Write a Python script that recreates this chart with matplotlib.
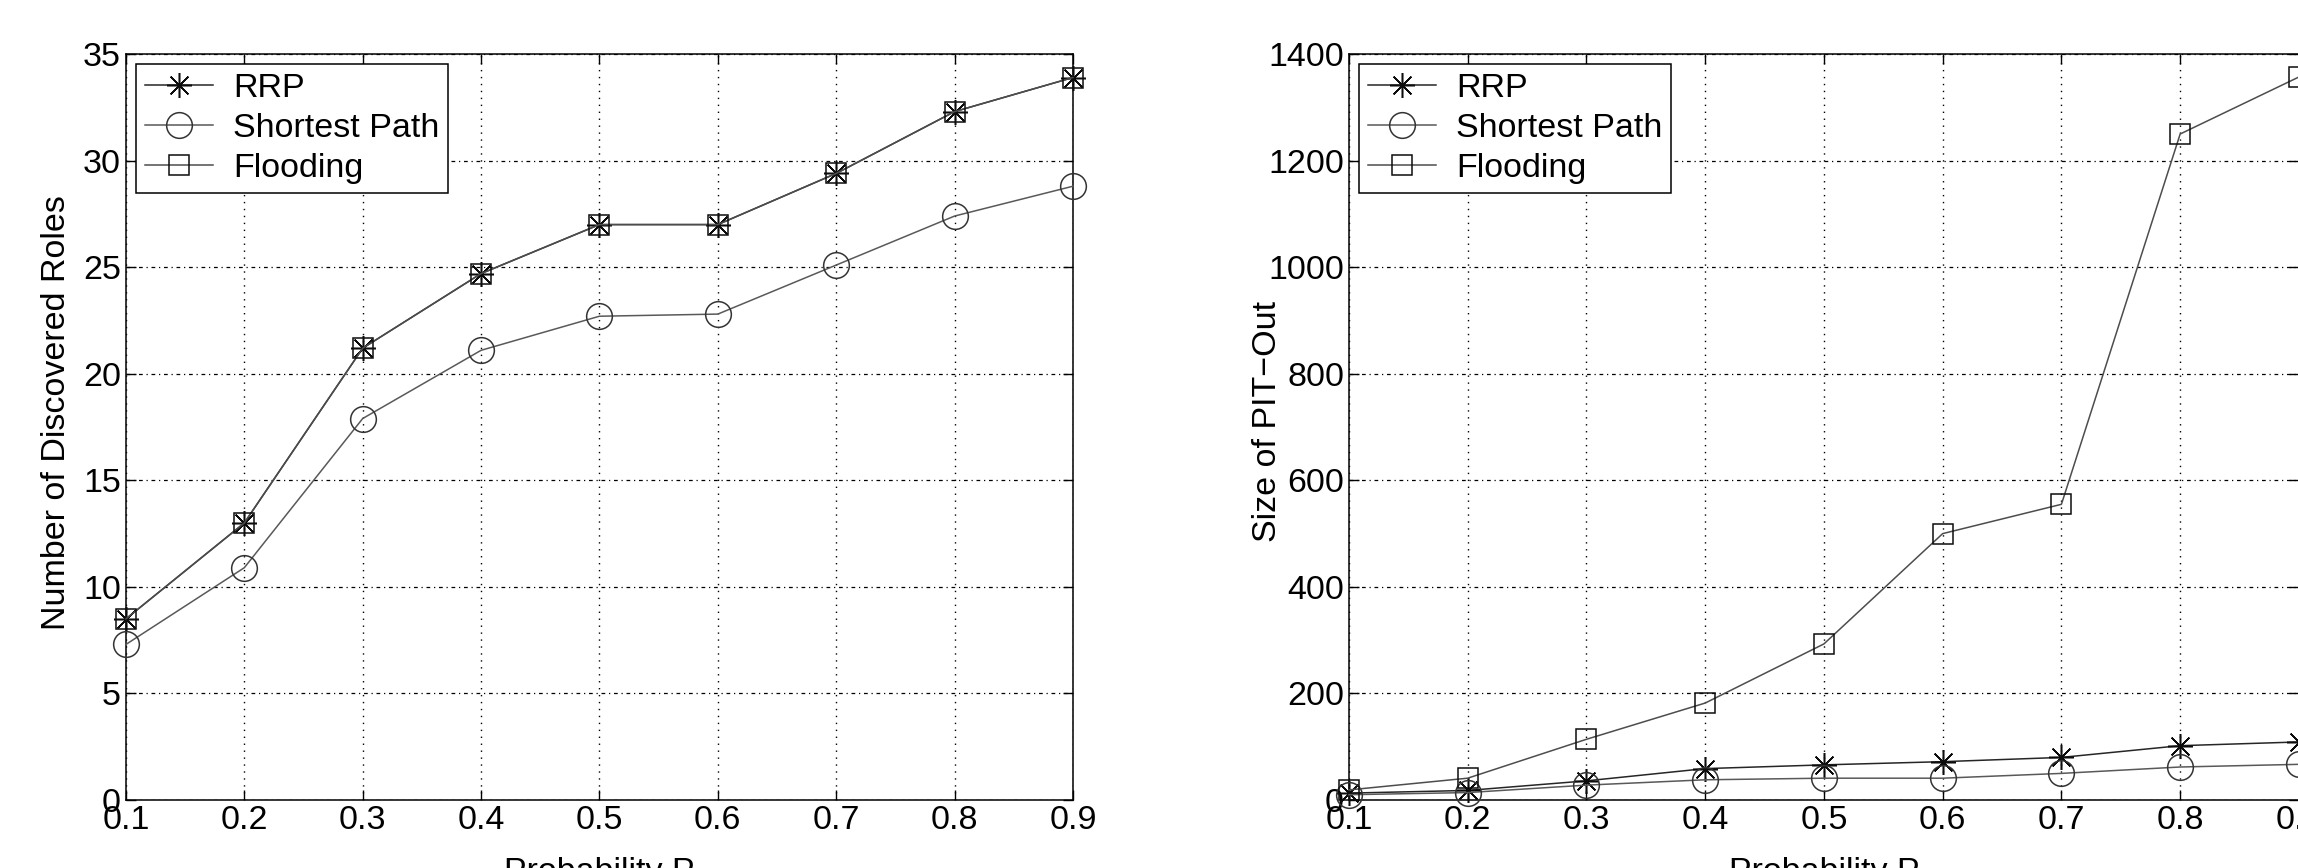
import matplotlib
matplotlib.use('Agg')
import matplotlib.pyplot as plt

plt.rcParams['font.family'] = ['Liberation Sans', 'DejaVu Sans']

# probability values on x axis
prob = [0.1, 0.2, 0.3, 0.4, 0.5, 0.6, 0.7, 0.8, 0.9]

# left plot: number of discovered roles
roles_rrp = [8.5, 13.0, 21.2, 24.7, 27.0, 27.0, 29.4, 32.3, 33.9]
roles_sp = [7.3, 10.9, 17.9, 21.1, 22.7, 22.8, 25.1, 27.4, 28.8]
roles_flood = [8.5, 13.0, 21.2, 24.7, 27.0, 27.0, 29.4, 32.3, 33.9]

# right plot: size of PIT-Out
pit_rrp = [13, 18, 36, 59, 66, 72, 80, 102, 109]
pit_sp = [10, 14, 28, 38, 41, 41, 50, 62, 67]
pit_flood = [19, 41, 114, 182, 293, 500, 555, 1250, 1357]

x_ticks = [0.1, 0.2, 0.3, 0.4, 0.5, 0.6, 0.7, 0.8, 0.9]
roles_ticks = [0, 5, 10, 15, 20, 25, 30, 35]
pit_ticks = [0, 200, 400, 600, 800, 1000, 1200, 1400]

FS = 24.5
asterisk = (8, 2, 0)

fig = plt.figure(figsize=(22.98, 8.68), dpi=100)
ax1 = fig.add_axes([0.0548, 0.0783, 0.4121, 0.8594])
ax2 = fig.add_axes([0.5870, 0.0783, 0.4134, 0.8594])


def draw_panel(ax, rrp, sp, flood):
    ax.plot(prob, rrp, color='0.15', lw=1.1, marker=asterisk, ms=18, mec='0.05',
            mew=1.1, label='RRP', clip_on=False, zorder=3)
    ax.plot(prob, sp, color='0.35', lw=1.1, marker='o', ms=18.5, mfc='none',
            mec='0.2', mew=1.1, label='Shortest Path', clip_on=False, zorder=3)
    ax.plot(prob, flood, color='0.3', lw=1.1, marker='s', ms=14, mfc='none',
            mec='0.05', mew=1.1, label='Flooding', clip_on=False, zorder=3)
    ax.set_xlim(0.1, 0.9)
    ax.set_xticks(x_ticks)
    ax.set_xticklabels([str(v) for v in x_ticks])
    ax.tick_params(direction='in', length=7, width=1, top=True, right=True,
                   labelsize=FS, pad=3.5, colors='black')
    ax.xaxis.grid(True, linestyle=(0, (1, 4)), color='black', lw=1)
    ax.yaxis.grid(True, linestyle=(0, (3, 3, 1, 3)), color='black', lw=0.9)
    ax.set_axisbelow(True)
    for s in ax.spines.values():
        s.set_linewidth(1.1)
    leg = ax.legend(loc='upper left', fontsize=FS, frameon=True, fancybox=False,
                    edgecolor='black', framealpha=1, borderaxespad=0.3,
                    borderpad=0.25, labelspacing=0.27, handlelength=2.0,
                    handletextpad=0.6)
    leg.get_frame().set_linewidth(1.1)
    ax.set_xlabel('Probability P', fontsize=FS)


draw_panel(ax1, roles_rrp, roles_sp, roles_flood)
ax1.set_ylim(0, 35)
ax1.set_yticks(roles_ticks)
ax1.set_ylabel('Number of Discovered Roles', fontsize=FS)
ax1.yaxis.set_label_coords(-0.057, 0.52)
ax1.xaxis.set_label_coords(0.5, -0.077)

draw_panel(ax2, pit_rrp, pit_sp, pit_flood)
ax2.set_ylim(0, 1400)
ax2.set_yticks(pit_ticks)
ax2.set_ylabel('Size of PIT\u2212Out', fontsize=FS)
ax2.yaxis.set_label_coords(-0.0695, 0.508)
ax2.xaxis.set_label_coords(0.5, -0.077)

fig.savefig('out.png', dpi=100)
